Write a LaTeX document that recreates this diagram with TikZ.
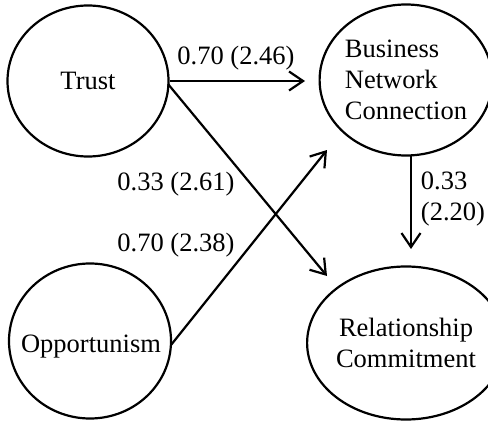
\documentclass[tikz,border=0pt]{standalone}
\usepackage{fontspec}
\setmainfont{Liberation Serif}
\usetikzlibrary{shapes.geometric,arrows.meta}
\begin{document}
\begin{tikzpicture}[x=1pt,y=-1pt,
  every node/.style={font=\fontsize{26.5}{31}\selectfont},
  latent/.style={draw,ellipse,line width=2.2pt,inner sep=0pt},
  conn/.style={line width=2.2pt,-{Straight Barb[length=14pt,width=19pt,line width=2.2pt]}},
  lbl/.style={inner sep=0pt}]
\useasboundingbox (0,0) rectangle (488,423);
\node[latent,minimum width=161pt,minimum height=151pt] (trust) at (88,81) {Trust};
\node[latent,minimum width=160pt,minimum height=151pt,align=left] (bnc) at (406,80) {Business\\Network\\Connection};
\node[latent,minimum width=162pt,minimum height=155pt] (opp) at (90,341) {};
\node[lbl] (opptext) at (91,347) {Opportunism};
\node[latent,minimum width=162pt,minimum height=153pt,align=center] (rc) at (406,343) {Relationship\\Commitment};
\coordinate (e1) at (305,81);
\coordinate (e2) at (327,276);
\coordinate (e3) at (327,150);
\coordinate (s4) at (411,156);
\coordinate (e4) at (411,249);
\coordinate (s2) at (168,84);
\coordinate (s3) at (171,345);
\draw[conn] (trust.east) -- (e1);
\draw[conn] (s2) -- (e2);
\draw[conn] (s3) -- (e3);
\draw[conn] (s4) -- (e4);
\node[lbl] (l1) at (236,58) {0.70 (2.46)};
\node[lbl] (l2) at (176,184) {0.33 (2.61)};
\node[lbl] (l3) at (176,245) {0.70 (2.38)};
\node[lbl,align=left] (l4) at (453,199) {0.33\\(2.20)};
\end{tikzpicture}
\end{document}
